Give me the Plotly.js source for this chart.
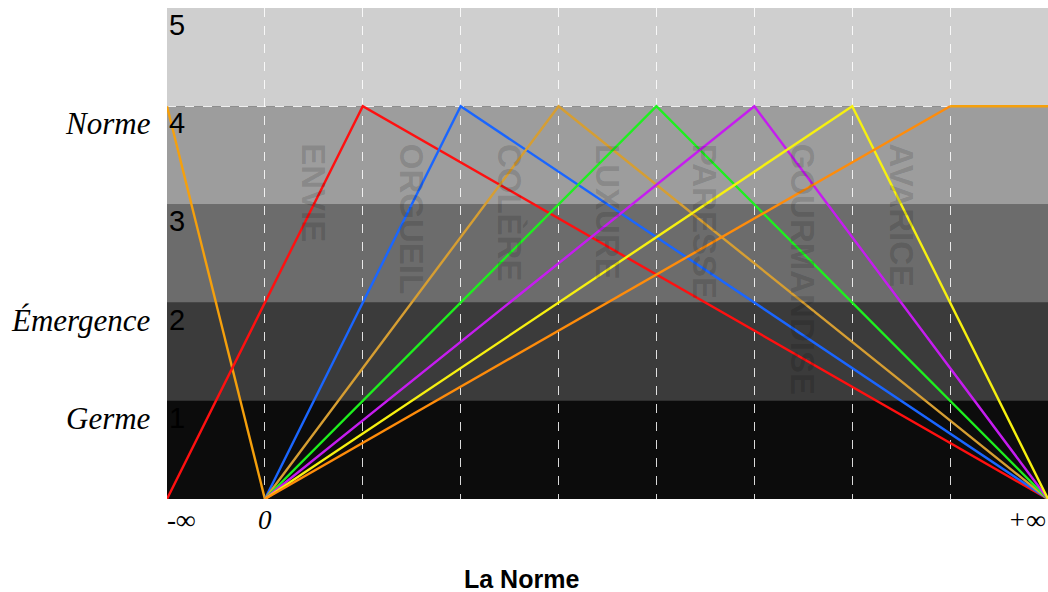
<!DOCTYPE html>
<html>
<head>
<meta charset="utf-8">
<script src="https://cdn.plot.ly/plotly-3.0.1.min.js"></script>
<style>html,body{margin:0;padding:0;background:#fff;}#chart{width:1048px;height:592px;}</style>
</head>
<body>
<div id="chart"></div>
<script>
// Data
const levels = [0, 1, 2, 3, 4, 5];
const bandColors = ['#0c0c0c', '#3b3b3b', '#6c6c6c', '#9d9d9d', '#cfcfcf'];
const levelLabels = ['1', '2', '3', '4', '5'];
const levelNames = [
  {y: 4, text: 'Norme'},
  {y: 2, text: 'Émergence'},
  {y: 1, text: 'Germe'}
];
const sins = ['ENVIE', 'ORGUEIL', 'COLÈRE', 'LUXURE', 'PARESSE', 'GOURMANDISE', 'AVARICE'];
const sinX = [1.5, 2.5, 3.5, 4.5, 5.5, 6.5, 7.5];
const gridX = [1, 2, 3, 4, 5, 6, 7, 8];
const xLabels = [{x: 0, text: '-∞'}, {x: 1, text: '0'}, {x: 9, text: '+∞'}];

const series = [
  {name: 'orange-start', color: '#f5a00c', x: [0, 1], y: [4, 0]},
  {name: 'ENVIE', color: '#ff1010', x: [0, 2, 9], y: [0, 4, 0]},
  {name: 'ORGUEIL', color: '#1a66ff', x: [1, 3, 9], y: [0, 4, 0]},
  {name: 'COLÈRE', color: '#d69e32', x: [1, 4, 9], y: [0, 4, 0]},
  {name: 'LUXURE', color: '#1ef01e', x: [1, 5, 9], y: [0, 4, 0]},
  {name: 'PARESSE', color: '#c61cf0', x: [1, 6, 9], y: [0, 4, 0]},
  {name: 'GOURMANDISE', color: '#f6f010', x: [1, 7, 9], y: [0, 4, 0]},
  {name: 'AVARICE', color: '#ff8c0a', x: [1, 8], y: [0, 4]},
  {name: 'orange-end', color: '#f5a00c', x: [8, 9], y: [4, 4]}
];

const traces = series.map(s => ({
  type: 'scatter', mode: 'lines', x: s.x, y: s.y, name: s.name,
  line: {color: s.color, width: 2.4}, hoverinfo: 'skip', cliponaxis: false
}));

const shapes = bandColors.map((c, i) => ({
  type: 'rect', xref: 'paper', yref: 'y', x0: 0, x1: 1,
  y0: levels[i], y1: levels[i + 1], fillcolor: c, line: {width: 0}, layer: 'below'
}));

const annotations = [];
levelLabels.forEach((t, i) => {
  annotations.push({x: 0, y: i + 1, xref: 'x', yref: 'y', text: t, showarrow: false,
    xanchor: 'left', yanchor: 'top', xshift: 0, yshift: 1,
    font: {family: 'Liberation Sans, Arial, sans-serif', size: 29, color: '#000'}});
});
levelNames.forEach(l => {
  annotations.push({x: 0, y: l.y, xref: 'x', yref: 'y', text: l.text, showarrow: false,
    xanchor: 'right', yanchor: 'top', xshift: -14, yshift: 2,
    font: {family: 'Liberation Serif, DejaVu Serif, serif', size: 31, color: '#000', style: 'italic'}});
});
sins.forEach((t, i) => {
  annotations.push({x: sinX[i], y: 3.64, xref: 'x', yref: 'y', text: t, showarrow: false,
    xanchor: 'center', yanchor: 'top', textangle: 90,
    font: {family: 'Liberation Sans, Arial, sans-serif', size: 33, color: 'rgba(0,0,0,0.15)', weight: 'bold'}});
});
xLabels.forEach(l => {
  let xa = 'center', xs = 0;
  if (l.x === 0) { xa = 'left'; xs = -2; }
  if (l.x === 9) { xa = 'right'; xs = -1; }
  annotations.push({x: l.x, y: 0, xref: 'x', yref: 'y', text: l.text, showarrow: false,
    xanchor: xa, yanchor: 'top', xshift: xs, yshift: -4,
    font: {family: 'Liberation Serif, DejaVu Serif, serif', size: 27, color: '#000', style: 'italic'}});
});
annotations.push({x: 0.5, y: 0, xref: 'paper', yref: 'paper', text: '<b>La Norme</b>',
  showarrow: false, xanchor: 'center', yanchor: 'top', yshift: -64, xshift: -86,
  font: {family: 'Liberation Sans, Arial, sans-serif', size: 25, color: '#000'}});

const layout = {
  width: 1048, height: 592,
  margin: {l: 167, r: 0, t: 8, b: 93, pad: 0},
  paper_bgcolor: '#ffffff', plot_bgcolor: '#0c0c0c',
  showlegend: false,
  xaxis: {range: [0, 9], tickvals: gridX, showticklabels: false, ticks: '',
    showgrid: true, gridcolor: 'rgba(255,255,255,0.85)', griddash: 'dash', gridwidth: 1,
    zeroline: false, showline: false, fixedrange: true},
  yaxis: {range: [0, 5], tickvals: [4], showticklabels: false, ticks: '',
    showgrid: true, gridcolor: 'rgba(255,255,255,0.85)', griddash: 'dash', gridwidth: 1,
    zeroline: false, showline: false, fixedrange: true},
  shapes: shapes,
  annotations: annotations
};

Plotly.newPlot('chart', traces, layout, {displayModeBar: false, staticPlot: true});
</script>
</body>
</html>
